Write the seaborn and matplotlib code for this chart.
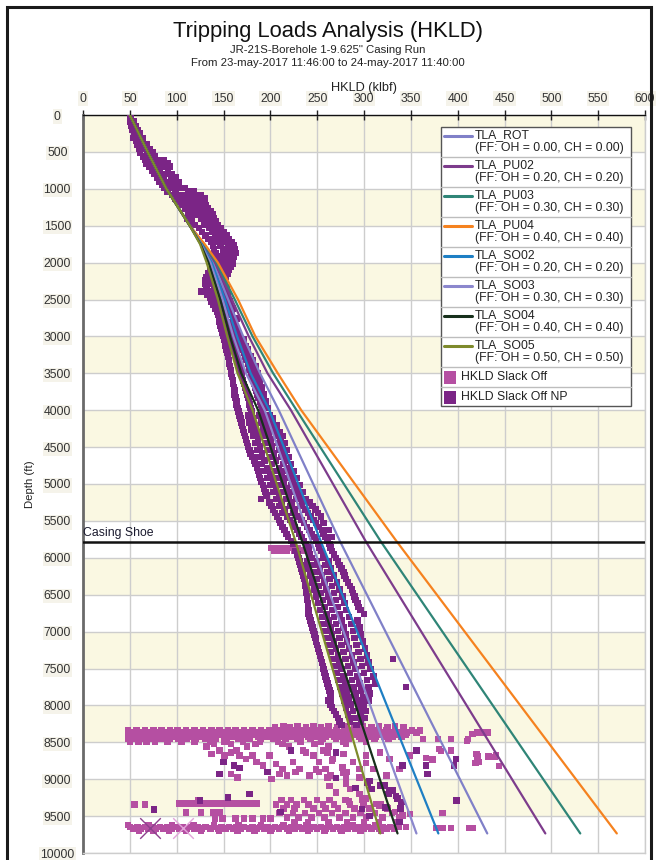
import matplotlib
matplotlib.use("Agg")
import matplotlib.pyplot as plt
from matplotlib.patches import Rectangle
from matplotlib.lines import Line2D
import matplotlib.transforms as mtransforms
import pandas as pd
import seaborn as sns

# ---------------- data ----------------
curve_names = ["TLA_ROT", "TLA_PU02", "TLA_PU03", "TLA_PU04",
               "TLA_SO02", "TLA_SO03", "TLA_SO04", "TLA_SO05"]
curve_ff = ["0.00", "0.20", "0.30", "0.40", "0.20", "0.30", "0.40", "0.50"]
curve_colors = ["#8080C8", "#7D3C8C", "#2F8577", "#F5821F",
                "#1E7FC4", "#8B87CD", "#17301C", "#7E8A2C"]

# common vertical section
shallow_depth = [0, 500, 1000, 1500]
shallow_hkld = [50, 69, 89, 114]
# fan-out below the kick-off point
deep_depth = [1750, 2000, 2500, 3000, 3500, 4000, 5780, 9735]
deep_hkld = {
    "TLA_ROT":  [127.5, 139.0, 155.0, 171.0, 189.0, 209.0, 274.5, 431.6],
    "TLA_PU02": [128.5, 141.0, 159.0, 177.0, 197.0, 222.0, 302.0, 493.6],
    "TLA_PU03": [129.0, 142.5, 162.0, 181.0, 203.0, 228.0, 318.0, 530.9],
    "TLA_PU04": [130.0, 144.0, 165.5, 184.0, 208.0, 233.0, 335.0, 569.9],
    "TLA_SO02": [126.5, 137.5, 151.5, 164.5, 179.0, 199.0, 254.0, 379.4],
    "TLA_SO03": [126.0, 136.0, 149.0, 160.5, 174.0, 194.0, 243.5, 356.0],
    "TLA_SO04": [125.5, 134.0, 146.5, 157.0, 169.0, 187.0, 234.0, 335.8],
    "TLA_SO05": [125.0, 132.0, 144.0, 154.0, 165.0, 181.0, 227.0, 317.4],
}

casing_shoe_depth = 5780

# HKLD Slack Off NP readings: (depth, [hookloads at that depth])
slack_off_np_rows = [
    (0, [50]), (45, [51]), (90, [50, 54]), (150, [52, 56]), (205, [53, 58]),
    (250, [55, 61]), (310, [54, 59, 64]), (355, [57, 63]), (400, [58, 62, 68]),
    (460, [60, 66, 71]), (510, [61, 69, 74]), (560, [64, 70, 77]),
    (610, [66, 73, 81, 86]), (655, [68, 78, 84, 90]), (700, [71, 77, 88, 93]),
    (755, [74, 82, 91]), (800, [76, 84, 89, 95]), (850, [79, 86, 94, 99]),
    (905, [81, 90, 97, 102]), (950, [85, 93, 101]), (990, [87, 96, 104, 109]),
    (1040, [90, 99, 112, 118]), (1085, [95, 103, 110, 121, 126]),
    (1130, [99, 108, 117, 124, 130]), (1175, [103, 113, 120, 128]),
    (1220, [106, 115, 123, 131]), (1270, [109, 118, 127, 133]),
    (1310, [112, 125, 130, 136]), (1350, [114, 121, 128, 134, 139]),
    (1400, [111, 126, 133, 140]), (1445, [116, 129, 136, 142]),
    (1490, [119, 131, 139, 144]), (1530, [124, 135, 141, 147]),
    (1585, [127, 138, 144, 150]), (1630, [131, 141, 147, 153]),
    (1680, [134, 143, 149, 156]), (1720, [137, 145, 152, 159]),
    (1770, [139, 147, 155, 161]), (1820, [140, 150, 157, 162]),
    (1870, [142, 151, 158, 163]), (1915, [141, 149, 156, 161]),
    (1960, [143, 152, 159]), (2010, [140, 147, 154, 160]),
    (2055, [138, 145, 152, 158]), (2100, [136, 143, 150, 156]),
    (2150, [134, 141, 148, 154]), (2195, [132, 139, 147, 152]),
    (2245, [131, 137, 144, 151]), (2290, [130, 138, 145, 150]),
    (2335, [132, 140, 147, 153]), (2390, [126, 134, 142, 149]),
    (2430, [133, 141, 148, 154]), (2480, [136, 143, 150]),
    (2525, [137, 145, 152, 157]), (2570, [139, 147, 154]),
    (2620, [141, 148, 155, 160]), (2665, [143, 150, 158]),
    (2710, [144, 151, 159]), (2760, [145, 152, 160, 164]),
    (2805, [146, 154, 161]), (2850, [147, 155, 162]), (2900, [148, 156, 163]),
    (2945, [149, 157, 165]), (2990, [150, 158, 166]),
    (3040, [151, 159, 167, 172]), (3085, [152, 160, 168]),
    (3130, [152, 161, 169, 174]), (3180, [153, 162, 170, 176]),
    (3225, [154, 163, 172]), (3270, [155, 164, 173, 179]),
    (3320, [156, 165, 174, 181]), (3365, [156, 166, 176]),
    (3410, [157, 167, 177, 184]), (3455, [158, 168, 178]),
    (3505, [158, 169, 180, 187]), (3550, [159, 170, 181]),
    (3595, [160, 171, 182, 189]), (3645, [160, 172, 183]),
    (3690, [161, 173, 184, 191]), (3735, [162, 174, 185]),
    (3785, [162, 175, 186, 193]), (3830, [163, 176, 187]),
    (3880, [164, 177, 189, 195]), (3925, [164, 178, 190]),
    (3970, [165, 179, 191, 197]), (4020, [166, 180, 192]),
    (4070, [167, 176, 188, 199]), (4115, [168, 181, 194, 203]),
    (4165, [169, 178, 190, 201]), (4210, [170, 183, 196, 207]),
    (4260, [171, 180, 192, 204]), (4305, [172, 185, 198, 210]),
    (4350, [173, 182, 194, 206, 213]), (4400, [174, 187, 200, 211]),
    (4445, [175, 184, 196, 208, 215]), (4495, [176, 189, 202, 213]),
    (4540, [178, 186, 198, 210, 218]), (4590, [179, 191, 204, 215]),
    (4635, [181, 188, 200, 212, 220]), (4680, [183, 194, 206, 217]),
    (4730, [184, 191, 202, 214, 222]), (4780, [186, 197, 209, 219]),
    (4825, [187, 194, 205, 216, 225]), (4870, [188, 200, 212, 222]),
    (4920, [189, 197, 208, 219, 228]), (4965, [190, 203, 214, 224]),
    (5015, [192, 200, 211, 222, 231]), (5060, [193, 206, 217, 228]),
    (5110, [195, 203, 214, 225, 235]), (5155, [196, 209, 220, 231]),
    (5200, [190, 206, 217, 228, 238]), (5250, [199, 212, 223, 234, 242]),
    (5295, [201, 210, 221, 232, 245]), (5345, [203, 215, 226, 237, 248]),
    (5390, [205, 213, 224, 240, 251]), (5440, [207, 218, 230, 243, 254]),
    (5485, [209, 221, 233, 246]), (5530, [211, 224, 236, 249, 257]),
    (5580, [213, 226, 239, 252]), (5625, [215, 229, 242, 255, 262]),
    (5675, [217, 231, 244, 257]), (5720, [219, 233, 247, 259, 266]),
    (5770, [222, 236, 249, 261]), (5815, [224, 238, 251, 263]),
    (5860, [241, 252, 264]), (5910, [227, 240, 254, 266]),
    (5955, [229, 242, 256, 268]), (6005, [230, 244, 257, 270]),
    (6050, [231, 239, 250, 262, 272]), (6100, [232, 246, 259, 274]),
    (6145, [233, 241, 253, 265, 276]), (6190, [234, 248, 261, 278]),
    (6240, [235, 243, 255, 268, 279]), (6285, [236, 250, 263, 281]),
    (6335, [237, 245, 258, 271, 283]), (6380, [237, 252, 266, 285]),
    (6430, [238, 247, 260, 274, 287]), (6475, [238, 254, 268, 288]),
    (6525, [239, 249, 262, 277, 290]), (6570, [239, 256, 270, 291]),
    (6615, [240, 251, 264, 279, 293]), (6665, [240, 258, 272, 294]),
    (6710, [241, 253, 266, 281, 296]), (6760, [241, 260, 274, 300]),
    (6805, [242, 255, 268, 284]), (6850, [243, 262, 276, 293]),
    (6900, [244, 257, 270, 286]), (6945, [245, 264, 278, 295]),
    (6995, [246, 259, 272, 288]), (7040, [247, 266, 280, 297]),
    (7085, [248, 261, 274, 290]), (7135, [249, 268, 282, 299]),
    (7180, [250, 263, 276, 292]), (7230, [251, 270, 284, 301]),
    (7275, [252, 265, 278, 294]), (7325, [253, 272, 287, 303]),
    (7370, [254, 267, 280, 296, 331]), (7420, [255, 274, 289, 305]),
    (7465, [256, 269, 283, 298]), (7510, [257, 276, 291, 307]),
    (7560, [258, 271, 285, 300]), (7605, [259, 278, 293, 310]),
    (7655, [260, 273, 287, 303]), (7700, [261, 280, 295, 312]),
    (7750, [262, 275, 289, 305, 345]), (7795, [263, 282, 297]),
    (7840, [264, 277, 291, 306]), (7890, [265, 284, 299]),
    (7935, [262, 279, 293, 305]), (7985, [264, 286, 300]),
    (8030, [266, 281, 295]), (8075, [268, 288, 302]),
    (8125, [270, 283, 296]), (8170, [272, 290, 301]),
    (8220, [274, 285, 297]), (8265, [276, 292]),
    (8610, [222, 356]), (8635, [270]), (8725, [398]), (8770, [150]),
    (8815, [161, 341, 366, 396]), (8850, [167]), (8905, [197]),
    (8930, [146, 368]), (8985, [270]), (9025, [306]), (9045, [304]),
    (9085, [317, 322]), (9120, [291]), (9135, [308]), (9150, [327, 331]),
    (9200, [178, 326]), (9230, [334]), (9245, [155]), (9265, [336]),
    (9290, [125, 399]), (9310, [340]), (9380, [323]), (9395, [339]),
    (9405, [298]), (9410, [76]), (9445, [211]), (9500, [306]), (9580, [338]),
]

# HKLD Slack Off readings: (depth, [hookloads at that depth])
slack_off_rows = [
    (5870, [201, 208, 215, 222, 229]),
    (5900, [204, 211, 218, 226, 234]),
    (8285, [214, 229, 246, 262, 281, 299, 316, 333]),
    (8300, [205, 221, 238, 254, 271, 290, 308, 325, 342]),
    (8340, [48, 57, 66, 75, 84, 93, 101, 110, 119, 128, 137, 146, 155, 163,
            172, 181, 190, 199, 208, 216, 225, 234, 243, 252, 261, 270, 279,
            288, 297, 306, 315, 324, 333, 342, 351, 360]),
    (8365, [52, 61, 70, 79, 88, 97, 106, 114, 123, 132, 141, 150, 159, 168,
            177, 186, 194, 203, 212, 221, 230, 239, 248, 257, 266, 275, 284,
            293, 301, 310, 319, 328, 337, 346, 356]),
    (8395, [48, 57, 66, 75, 84, 93, 102, 111, 120, 129, 138, 147, 156, 165,
            174, 183, 192, 201, 210, 219, 228, 237, 246, 255, 264, 273, 282,
            291, 300, 309, 318, 327, 336, 345]),
    (8425, [52, 61, 70, 79, 88, 97, 106, 115, 124, 133, 142, 151, 160, 169,
            178, 187, 196, 205, 214, 223, 232, 241, 250, 259, 268, 277, 286,
            295, 304, 313, 322, 331, 340]),
    (8455, [48, 57, 66, 75, 84, 93, 102, 111, 120, 131, 142, 153, 166, 178,
            190, 203, 216, 229, 243, 256, 270, 284, 297, 311, 326]),
    (8490, [50, 59, 68, 77, 90, 105, 119, 136, 151, 171, 189, 208, 232, 254,
            278, 302]),
    (8525, [140, 158, 184, 213, 247, 281]),
    (8455, [363, 379, 393, 411]), (8390, [416]), (8365, [421, 425, 432]),
    (8375, [426]), (8480, [410]),
    (8560, [132, 175, 220, 262]), (8590, [380]),
    (8610, [146, 164, 235, 256, 393]), (8620, [382]),
    (8640, [158, 238, 261, 317]), (8660, [137, 278, 420]),
    (8680, [151, 167, 181, 199, 246, 302, 349, 441]),
    (8690, [421, 433]), (8700, [440]), (8710, [366]),
    (8725, [174, 267, 327]), (8735, [373]), (8750, [266]),
    (8770, [185, 224, 252, 288, 423]), (8780, [302, 419]), (8795, [206]),
    (8815, [192]), (8820, [444]), (8840, [277]),
    (8860, [213, 231, 259, 295, 310, 338]), (8870, [249]),
    (8905, [227, 252, 282]), (8915, [278]), (8930, [158, 210]),
    (8950, [218, 242, 264, 324]), (8975, [165, 261, 281, 295]),
    (8995, [201]),
    (9063, [281]), (9093, [263]), (9130, [285]), (9183, [270]),
    (9200, [295]), (9265, [302]), (9300, [284]), (9320, [299]),
    (9335, [313]), (9365, [316]), (9380, [324]), (9445, [333]),
    (9470, [349]), (9490, [341]), (9455, [384]),
    (9290, [123]), (9340, [55, 66]),
    (9330, [103, 109, 115, 121, 127, 133, 139, 145, 151, 157, 163, 169, 175,
            181, 186]),
    (9450, [110, 126, 139, 146]),
    (9530, [141, 149, 163, 172, 181, 192, 200]),
    (9280, [212, 222, 236, 250, 263, 280, 298]),
    (9340, [206, 218, 228, 241, 256, 268, 285, 300, 318]),
    (9400, [214, 226, 246, 259, 272, 290, 306, 325]),
    (9460, [210, 224, 237, 252, 266, 280, 296, 312, 330]),
    (9520, [218, 230, 244, 258, 274, 288, 302, 320, 338]),
    (9580, [226, 240, 262, 282, 300, 316, 336]),
    (9620, [48, 70, 95, 118, 140, 166, 190, 214, 238, 262, 288, 312, 335]),
    (9645, [50, 58, 66, 74, 82, 90, 99, 107, 115, 123, 131, 140, 148, 156,
            164, 172, 181, 189, 197, 205, 213, 222, 230, 238, 246, 254, 263,
            271, 279, 287, 295, 304, 312, 320, 328, 337, 345]),
    (9670, [54, 62, 70, 78, 86, 95, 103, 111, 119, 127, 136, 144, 152, 160,
            168, 177, 185, 193, 201, 209, 218, 226, 234, 242, 250, 259, 267,
            275, 283, 291, 300, 308, 316, 324, 332]),
    (9700, [60, 75, 92, 110, 126, 145, 165, 183, 200, 220, 240, 258, 276,
            296, 318]),
    (9660, [377, 384, 393, 412, 416]),
]

cross_hkld = [71, 107]
cross_depth = [9665, 9665]
cross_colors = ["#8E3F8E", "#E2A4DA"]

x_ticks = list(range(0, 601, 50))
y_ticks = list(range(0, 10001, 500))

# ---------------- tables for seaborn ----------------
line_records = []
for name in curve_names:
    for d, h in zip(shallow_depth + deep_depth, shallow_hkld + deep_hkld[name]):
        line_records.append({"curve": name, "depth": d, "hkld": h})
lines_df = pd.DataFrame(line_records)

pt_records = []
for series, rows in (("HKLD Slack Off", slack_off_rows),
                     ("HKLD Slack Off NP", slack_off_np_rows)):
    for d, vals in rows:
        for h in vals:
            pt_records.append({"series": series, "depth": d, "hkld": h})
pts_df = pd.DataFrame(pt_records)

# ---------------- figure ----------------
sns.set_style("white")
plt.rcParams["font.family"] = ["Liberation Sans", "DejaVu Sans"]

W, H = 656, 860
fig = plt.figure(figsize=(W / 100, H / 100), dpi=100)


def fx(px):
    return px / W


def fy(py):
    return 1 - py / H


ax = fig.add_axes([fx(83), fy(853), fx(645) - fx(83), fy(115) - fy(853)])

# alternating depth bands
for d in range(0, 10000, 1000):
    ax.axhspan(d, d + 500, color="#FAF8E2", zorder=0, lw=0)

ax.set_axisbelow(True)
ax.grid(True, color="#CDCDCD", lw=1.0)

sns.scatterplot(data=pts_df, x="hkld", y="depth", hue="series",
                palette={"HKLD Slack Off": "#B54FA2",
                         "HKLD Slack Off NP": "#7B2586"},
                marker="s", s=22, linewidth=0, legend=False, ax=ax, zorder=3)

for hk, dp, col in zip(cross_hkld, cross_depth, cross_colors):
    sns.scatterplot(x=[hk], y=[dp], marker="x", s=220, color=col,
                    linewidth=1.0, legend=False, ax=ax, zorder=4)

sns.lineplot(data=lines_df, x="hkld", y="depth", hue="curve",
             palette=dict(zip(curve_names, curve_colors)),
             sort=False, estimator=None, linewidth=1.6, legend=False,
             ax=ax, zorder=5)

ax.axhline(casing_shoe_depth, color="#111111", lw=1.8, zorder=6)
trans = mtransforms.blended_transform_factory(ax.transAxes, ax.transData)
ax.text(0.0, casing_shoe_depth - 40, "Casing Shoe", transform=trans,
        ha="left", va="bottom", fontsize=8.8, color="#1A1A2E", zorder=7)

ax.set_xlim(0, 600)
ax.set_ylim(10000, 0)
ax.set_xticks(x_ticks)
ax.set_yticks(y_ticks)
ax.xaxis.tick_top()
ax.xaxis.set_label_position("top")
ax.set_xlabel("HKLD (klbf)", fontsize=9.2, labelpad=1, color="#222222")
ax.set_ylabel("Depth (ft)", fontsize=8.2, labelpad=4, color="#222222")
ax.tick_params(axis="both", direction="inout", length=7, width=1,
               color="#222222", labelsize=8.8, labelcolor="#333333", pad=4)
ax.tick_params(axis="y", pad=15)
for lab in ax.get_yticklabels():
    lab.set_horizontalalignment("center")
for lab in ax.get_yticklabels() + ax.get_xticklabels():
    lab.set_bbox(dict(facecolor="#F5F3EA", edgecolor="none", pad=0.8))

for side in ("right", "bottom"):
    ax.spines[side].set_color("#CDCDCD")
    ax.spines[side].set_linewidth(1)
ax.spines["top"].set_color("#111111")
ax.spines["top"].set_linewidth(1)
ax.spines["left"].set_color("#6A6A6A")
ax.spines["left"].set_linewidth(2)

# titles
fig.text(0.5, fy(32), "Tripping Loads Analysis (HKLD)", ha="center",
         va="center", fontsize=15.8, color="#111111")
fig.text(0.5, fy(50), 'JR-21S-Borehole 1-9.625" Casing Run', ha="center",
         va="center", fontsize=8.2, color="#222222")
fig.text(0.5, fy(63), "From 23-may-2017 11:46:00 to 24-may-2017 11:40:00",
         ha="center", va="center", fontsize=8.2, color="#222222")

# legend panel
lx0, lx1, ly0, ly1 = 441, 631, 127, 406
fig.add_artist(Rectangle((fx(lx0), fy(ly1)), fx(lx1) - fx(lx0),
                         fy(ly0) - fy(ly1), transform=fig.transFigure,
                         facecolor="white", edgecolor="#555555", lw=1,
                         zorder=10))
top = ly0
for name, ff, col in zip(curve_names, curve_ff, curve_colors):
    y1 = top + 8.5
    y2 = top + 21.5
    fig.add_artist(Line2D([fx(444), fx(472)], [fy(y1), fy(y1)],
                          transform=fig.transFigure, color=col, lw=2.2,
                          zorder=11))
    fig.text(fx(475), fy(y1), name, ha="left", va="center", fontsize=8.8,
             color="#222222", zorder=11)
    fig.text(fx(475), fy(y2), f"(FF: OH = {ff}, CH = {ff})", ha="left",
             va="center", fontsize=8.8, color="#222222", zorder=11)
    top += 30
    fig.add_artist(Line2D([fx(lx0), fx(lx1)], [fy(top), fy(top)],
                          transform=fig.transFigure, color="#BDBDBD", lw=1,
                          zorder=11))
for label, col in (("HKLD Slack Off", "#B54FA2"),
                   ("HKLD Slack Off NP", "#7B2586")):
    yc = top + 10
    fig.add_artist(Rectangle((fx(444), fy(yc + 6.5)), fx(456) - fx(444),
                             fy(yc - 6.5) - fy(yc + 6.5),
                             transform=fig.transFigure, facecolor=col,
                             edgecolor="none", zorder=11))
    fig.text(fx(461), fy(yc), label, ha="left", va="center", fontsize=8.8,
             color="#222222", zorder=11)
    top += 20
    if top < ly1 - 5:
        fig.add_artist(Line2D([fx(lx0), fx(lx1)], [fy(top), fy(top)],
                              transform=fig.transFigure, color="#BDBDBD",
                              lw=1, zorder=11))

# outer frame
fig.add_artist(Rectangle((fx(7), fy(880)), fx(651) - fx(7), fy(7) - fy(880),
                         transform=fig.transFigure, facecolor="none",
                         edgecolor="#1A1A1A", lw=2.2, zorder=20))

fig.savefig("out.png", dpi=100)
